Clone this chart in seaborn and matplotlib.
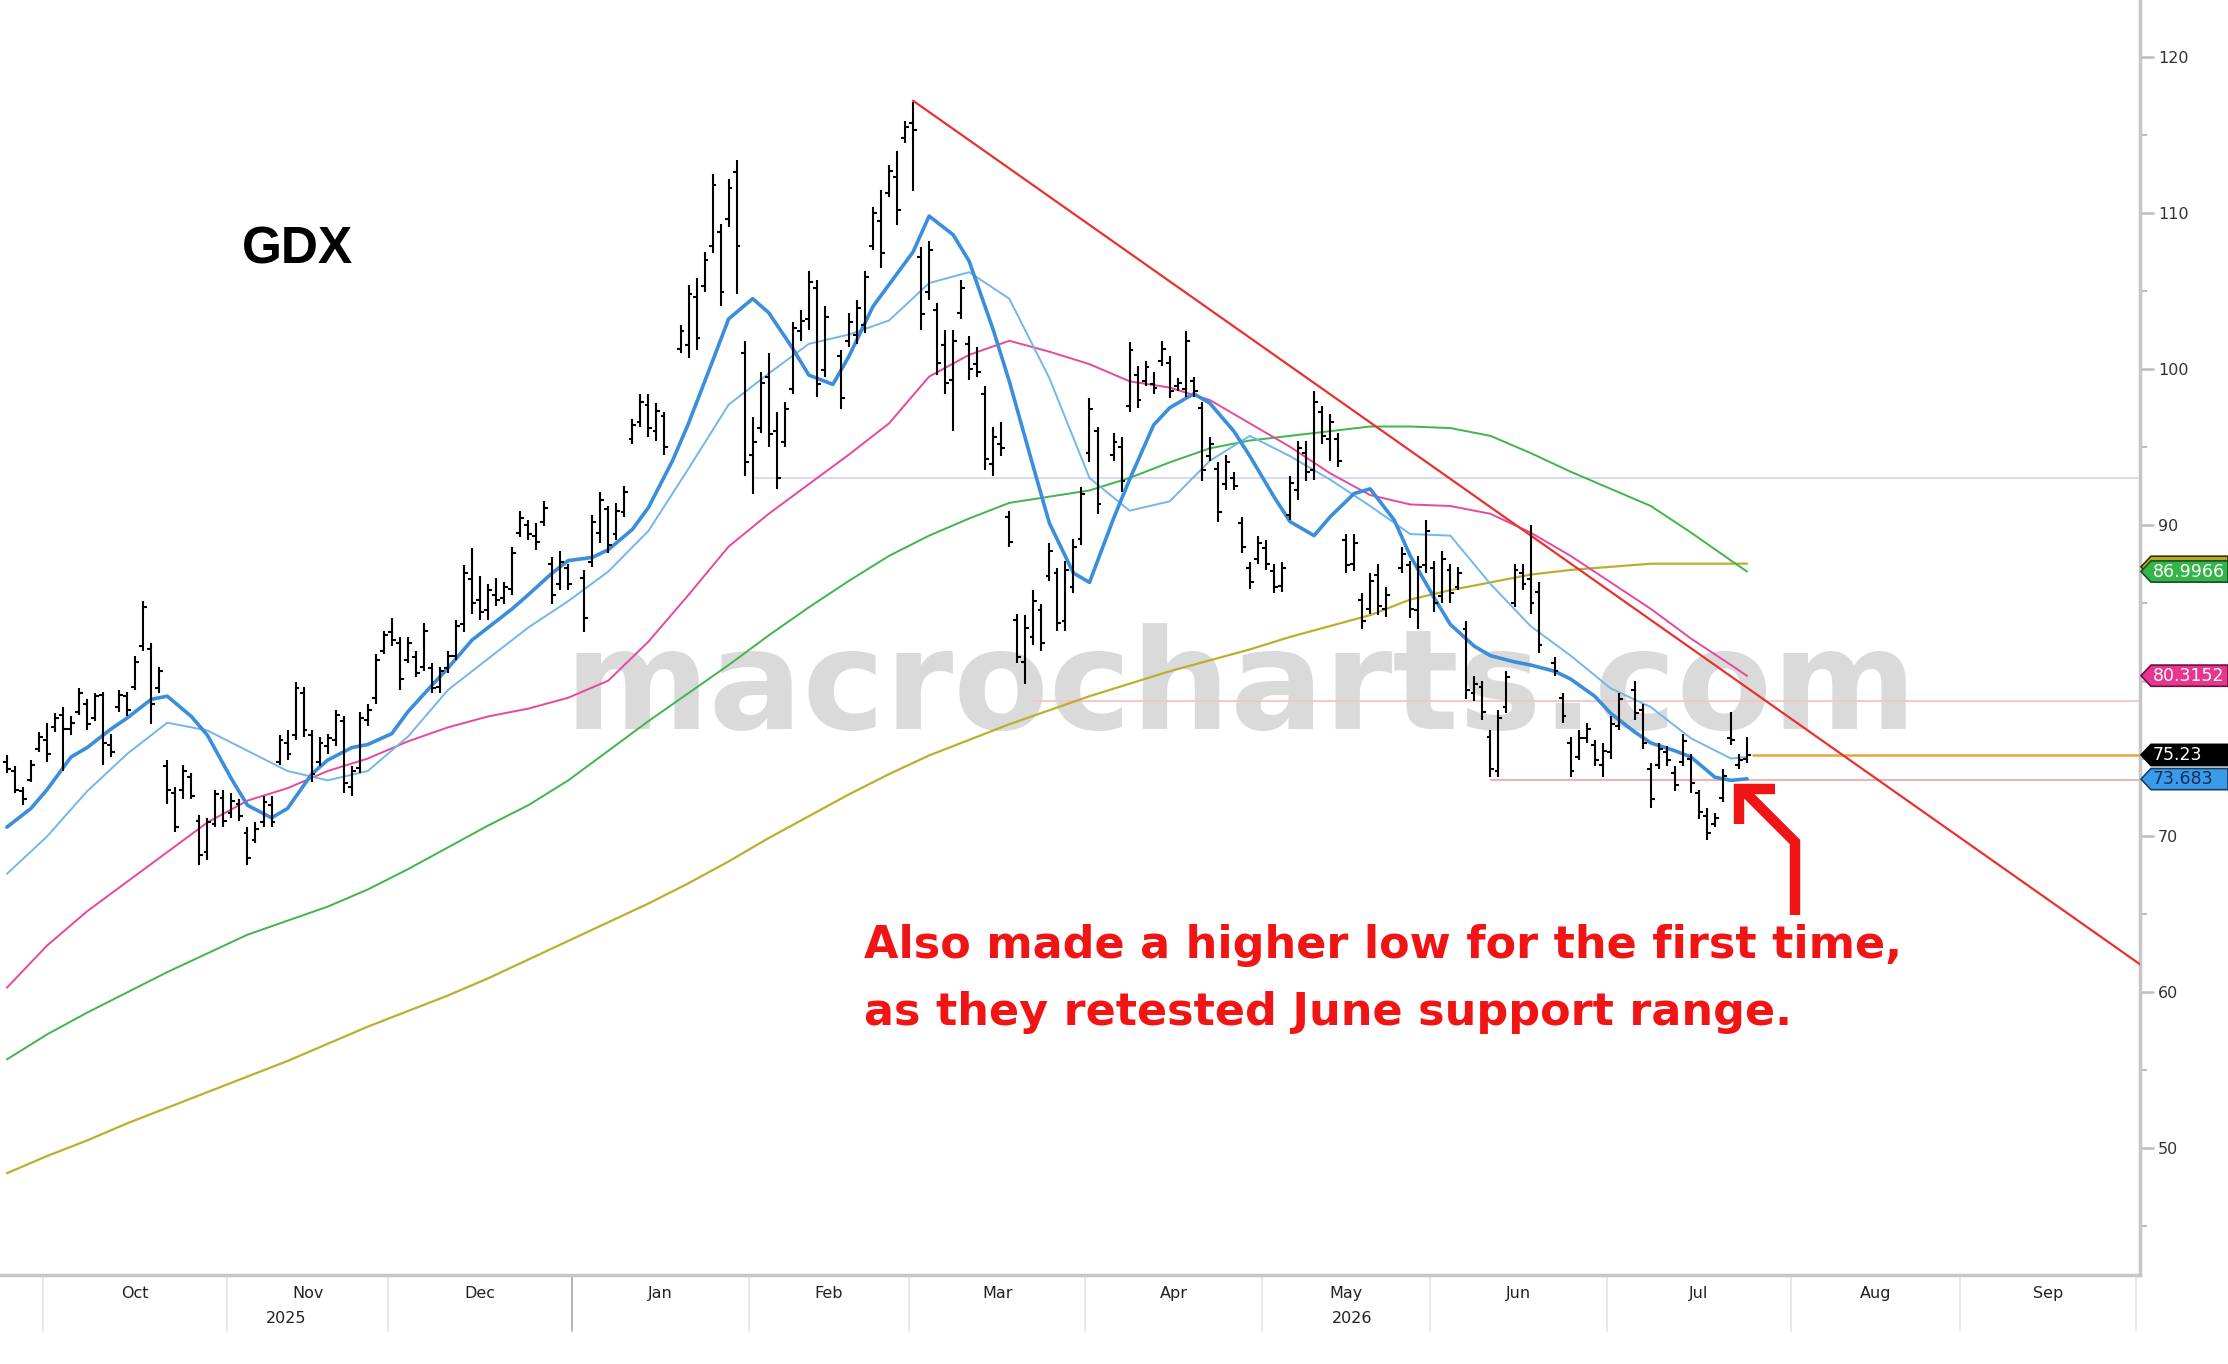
import numpy as np
import pandas as pd
import matplotlib.pyplot as plt
from matplotlib.lines import Line2D
from matplotlib.patches import Polygon
from matplotlib.transforms import blended_transform_factory
import seaborn as sns

# --- daily GDX bars, first bar 2025-09-24 ---
holidays = ["2026-01-01", "2026-01-19", "2026-02-16",
            "2026-04-03", "2026-05-25", "2026-06-19", "2026-07-03"]

highs = [
    75.2, 74.5, 73.2, 74.9, 76.7, 77.3, 77.9, 78.3, 77.7, 79.5,
    78.8, 79.2, 79.3, 76.6, 79.4, 79.3, 81.6, 85.1, 82.4, 80.9,
    74.9, 73.2, 74.6, 74.1, 71.4, 71.2, 73.0, 73.0, 72.8, 72.4,
    70.6, 70.9, 72.6, 72.6, 76.5, 76.8, 79.9, 79.6, 76.8, 76.4,
    76.6, 78.1, 77.7, 74.5, 78.0, 78.5, 81.7, 83.2, 84.0, 82.8,
    82.8, 81.9, 83.7, 81.1, 80.9, 81.9, 83.9, 87.4, 88.5, 86.7,
    86.2, 86.6, 86.3, 88.6, 90.9, 90.3, 90.1, 91.5, 87.9, 88.3,
    87.5, 87.1, 90.6, 92.1, 91.2, 91.4, 92.5, 96.8, 98.4, 98.4,
    97.8, 97.2, 102.8, 105.4, 105.8, 107.5, 112.5, 109.3, 112.2, 113.4,
    101.8, 96.9, 99.8, 101.0, 97.2, 97.9, 103.0, 103.8, 106.3, 105.7,
    104.0, 101.2, 103.6, 104.4, 106.3, 110.4, 111.5, 113.1, 114.0, 115.9,
    117.1, 107.8, 108.2, 104.2, 102.5, 102.5, 105.7, 102.1, 101.4, 98.9,
    96.3, 96.6, 90.9, 84.3, 84.2, 85.8, 84.9, 88.8, 87.2, 87.7,
    89.1, 92.4, 98.1, 96.3, 95.9, 95.6, 101.7, 100.2, 100.5, 99.8,
    101.8, 100.8, 99.4, 102.4, 99.5, 97.9, 95.6, 94.0, 94.5, 93.4,
    90.5, 87.6, 89.3, 89.0, 87.5, 87.6, 93.1, 95.4, 95.4, 98.6,
    97.6, 97.1, 95.9, 89.4, 89.4, 85.6, 86.9, 87.5, 86.0, 88.6,
    87.7, 88.0, 90.3, 87.7, 88.3, 87.5, 87.3, 83.8, 80.3, 80.0,
    76.8, 78.1, 80.6, 87.5, 87.5, 90.0, 86.3, 81.5, 79.2, 76.4,
    76.8, 77.3, 76.2, 76.0, 77.7, 79.2, 80.0, 78.5, 74.7, 76.0,
    75.8, 74.5, 76.6, 75.3, 73.0, 71.8, 71.5, 74.3, 78.0, 75.3,
    76.4]

lows = [
    74.1, 72.8, 72.0, 73.5, 75.4, 74.8, 76.7, 74.2, 76.5, 77.8,
    76.8, 77.4, 74.6, 75.1, 78.0, 77.7, 79.4, 81.9, 77.2, 79.2,
    72.1, 70.3, 72.4, 72.4, 68.2, 68.5, 70.6, 70.6, 71.2, 71.0,
    68.2, 69.6, 70.6, 70.6, 74.6, 74.9, 76.2, 76.4, 73.5, 74.5,
    75.3, 75.8, 72.8, 72.6, 74.1, 77.1, 78.5, 81.7, 82.2, 79.4,
    81.1, 80.2, 80.6, 79.2, 79.2, 80.5, 81.3, 83.1, 84.3, 83.9,
    83.9, 84.8, 84.9, 85.5, 89.2, 89.0, 88.4, 89.9, 84.9, 85.8,
    85.8, 83.1, 87.3, 88.8, 88.2, 89.0, 90.5, 95.2, 96.3, 95.6,
    95.4, 94.5, 101.0, 100.7, 101.2, 104.9, 107.4, 104.0, 109.1, 104.8,
    93.1, 92.0, 95.9, 95.0, 92.3, 95.0, 98.4, 101.8, 102.5, 98.2,
    99.5, 97.4, 101.4, 101.6, 102.3, 107.6, 106.5, 111.0, 109.2, 114.5,
    111.4, 102.5, 104.4, 99.6, 98.4, 96.0, 103.2, 99.3, 99.5, 93.5,
    93.1, 94.4, 88.6, 81.1, 79.8, 82.3, 81.9, 86.4, 83.2, 83.2,
    85.6, 88.7, 94.0, 90.7, 94.1, 92.1, 97.2, 97.5, 98.9, 98.4,
    100.2, 98.1, 98.6, 98.2, 98.2, 92.8, 94.1, 90.2, 92.2, 92.2,
    88.2, 85.9, 87.5, 87.1, 85.6, 85.7, 90.3, 91.6, 92.8, 92.9,
    95.2, 94.1, 93.7, 86.9, 87.0, 83.3, 84.3, 84.2, 84.1, 86.9,
    84.0, 83.3, 86.9, 84.4, 85.0, 85.0, 85.8, 78.8, 78.7, 77.5,
    73.8, 73.8, 77.9, 84.7, 85.8, 84.3, 81.8, 80.3, 77.3, 73.8,
    74.9, 76.0, 74.5, 73.8, 75.0, 76.8, 77.5, 75.6, 71.8, 74.3,
    74.5, 72.9, 74.5, 72.8, 71.1, 69.8, 70.6, 72.2, 75.9, 74.3,
    74.7]

opens = [
    74.8, 74.2, 72.9, 73.6, 75.6, 76.2, 77.0, 77.8, 76.9, 78.0,
    78.5, 77.6, 79.1, 75.9, 78.3, 79.0, 79.6, 82.2, 82.0, 79.5,
    74.5, 72.8, 73.0, 73.8, 71.0, 69.0, 70.8, 72.5, 71.5, 72.1,
    70.2, 69.8, 70.9, 72.0, 74.8, 76.0, 76.5, 79.2, 76.5, 74.8,
    75.8, 76.2, 77.4, 73.2, 74.4, 77.5, 78.9, 81.9, 83.1, 82.4,
    81.3, 81.5, 80.9, 80.8, 79.6, 80.8, 81.6, 83.6, 86.5, 85.2,
    84.5, 85.5, 85.3, 85.9, 89.5, 90.0, 89.3, 90.2, 87.5, 86.2,
    87.2, 86.6, 87.6, 89.5, 91.0, 89.4, 90.8, 95.5, 96.6, 97.7,
    96.0, 97.0, 101.3, 101.5, 104.6, 105.3, 107.9, 108.8, 109.6, 112.6,
    101.0, 94.5, 96.2, 99.5, 96.0, 95.3, 98.7, 102.4, 103.2, 105.2,
    99.9, 100.8, 101.8, 102.2, 102.8, 107.9, 109.5, 111.3, 112.3, 114.8,
    115.8, 107.2, 104.9, 103.8, 101.5, 99.3, 103.6, 101.6, 100.3, 98.4,
    93.9, 95.2, 90.5, 83.9, 81.2, 82.8, 84.5, 86.7, 86.9, 83.8,
    86.0, 89.1, 94.6, 96.0, 94.5, 95.0, 97.6, 99.6, 99.2, 99.0,
    100.5, 100.4, 98.9, 98.7, 99.2, 97.5, 94.4, 93.6, 92.6, 93.0,
    90.1, 87.2, 87.8, 88.5, 87.0, 86.1, 90.6, 92.2, 94.6, 93.5,
    97.2, 95.5, 95.5, 89.0, 87.5, 85.2, 84.6, 86.8, 84.6, 87.2,
    87.4, 84.5, 87.4, 87.2, 85.4, 87.1, 86.0, 83.3, 79.2, 79.6,
    76.4, 74.2, 78.3, 85.0, 86.9, 86.5, 85.7, 81.1, 78.9, 76.0,
    75.1, 76.3, 75.9, 74.6, 75.4, 77.1, 79.4, 78.1, 74.3, 74.6,
    75.4, 74.1, 74.8, 75.0, 72.8, 71.3, 70.8, 72.5, 76.3, 74.6,
    75.0]

closes = [
    74.3, 73.0, 72.4, 74.6, 76.4, 75.3, 77.6, 76.9, 77.3, 79.2,
    77.2, 79.0, 76.0, 75.4, 79.1, 78.1, 81.2, 84.7, 78.5, 80.6,
    73.0, 70.6, 74.2, 72.6, 68.8, 70.9, 72.7, 71.0, 72.3, 71.3,
    68.6, 70.5, 72.2, 70.9, 76.2, 75.3, 79.5, 76.8, 74.0, 76.0,
    76.3, 77.8, 73.4, 74.2, 77.6, 78.1, 81.3, 82.9, 82.6, 80.1,
    82.4, 80.5, 83.2, 79.5, 80.6, 81.6, 83.5, 86.9, 85.0, 84.4,
    85.8, 85.2, 86.0, 88.2, 90.4, 89.4, 88.9, 91.1, 85.5, 87.6,
    86.2, 84.0, 90.2, 91.6, 88.7, 90.9, 92.1, 96.4, 97.9, 96.2,
    97.3, 95.0, 102.4, 104.8, 102.0, 107.0, 111.8, 104.9, 111.6, 107.9,
    94.0, 95.3, 99.1, 95.8, 93.0, 97.4, 102.6, 103.1, 105.6, 99.0,
    103.3, 98.1, 103.0, 103.9, 105.9, 110.0, 107.4, 112.7, 110.2, 115.5,
    115.3, 103.5, 107.6, 100.4, 99.1, 101.8, 105.2, 100.0, 99.8, 94.2,
    95.6, 94.9, 88.9, 81.5, 83.4, 85.1, 82.4, 88.3, 83.7, 87.1,
    88.6, 92.0, 97.4, 91.3, 95.3, 92.8, 101.2, 98.0, 100.1, 98.8,
    101.3, 98.6, 99.1, 101.8, 98.6, 93.5, 95.2, 90.8, 94.0, 92.5,
    88.6, 86.3, 88.8, 87.5, 86.0, 87.2, 92.7, 94.9, 93.4, 97.9,
    95.7, 96.6, 94.1, 87.4, 88.8, 83.8, 86.4, 84.8, 85.5, 88.1,
    84.6, 87.3, 89.6, 85.0, 87.8, 85.6, 86.9, 79.4, 79.8, 78.0,
    74.3, 77.6, 80.2, 87.1, 86.2, 85.0, 82.3, 80.6, 77.7, 74.2,
    76.3, 76.9, 74.9, 75.5, 77.2, 78.8, 77.9, 76.0, 72.4, 75.6,
    74.9, 73.3, 76.1, 73.4, 71.6, 70.2, 71.2, 73.9, 76.2, 74.9,
    75.23]

# --- fast MA (thick blue), sampled Mondays and Wednesdays, last point = last bar ---
ma_fast = [70.6, 71.8, 73.0, 75.1, 75.7, 76.9, 77.6, 78.8, 79.0, 77.7,
           76.5, 73.7, 72.0, 71.2, 71.8, 74.0, 74.9, 75.7, 75.9, 76.6,
           78.0, 79.7, 80.8, 82.6, 83.4, 84.6, 85.5, 86.9, 87.7, 87.9,
           88.4, 89.7, 91.1, 94.1, 96.5, 100.5, 103.2, 104.5, 103.6, 101.3,
           99.6, 99.0, 100.8, 104.0, 105.4, 107.5, 109.8, 108.6, 106.9, 102.5,
           99.2, 93.7, 90.1, 86.9, 86.3, 90.4, 92.9, 96.4, 97.5, 98.4,
           97.8, 96.0, 94.4, 91.8, 90.2, 89.3, 90.5, 92.0, 92.3, 90.3,
           88.0, 85.3, 83.6, 82.2, 81.6, 81.2, 81.0, 80.6, 80.1, 79.0,
           77.9, 76.7, 76.0, 75.5, 75.1, 73.8, 73.6, 73.7]

# --- other moving averages, sampled every Wednesday, last point = last bar ---
ma_slow = [67.6, 70.0, 72.9, 75.3, 77.3, 76.8, 75.5, 74.2, 73.6, 74.2,
           76.4, 79.4, 81.4, 83.4, 85.1, 87.0, 89.6, 93.6, 97.7, 99.7,
           101.6, 102.2, 103.1, 105.5, 106.2, 104.5, 99.4, 93.0, 90.9, 91.5,
           94.1, 95.7, 94.4, 92.9, 91.2, 89.4, 89.3, 86.2, 83.5, 81.6,
           79.5, 78.3, 76.3, 75.0, 75.1]
ma_50 = [60.3, 63.0, 65.2, 67.1, 69.0, 70.9, 72.3, 73.1, 74.2, 75.0,
         76.1, 77.0, 77.7, 78.2, 78.9, 80.0, 82.5, 85.5, 88.6, 90.7,
         92.6, 94.5, 96.5, 99.5, 100.9, 101.8, 101.1, 100.3, 99.2, 98.8,
         98.0, 96.5, 95.0, 93.3, 91.9, 91.3, 91.2, 90.7, 89.5, 88.0,
         86.3, 84.6, 82.7, 81.0, 80.3]
ma_100 = [55.7, 57.3, 58.7, 60.0, 61.3, 62.5, 63.7, 64.6, 65.5, 66.6,
          67.9, 69.3, 70.7, 72.0, 73.6, 75.5, 77.4, 79.2, 81.0, 82.9,
          84.7, 86.4, 88.0, 89.3, 90.4, 91.4, 91.8, 92.2, 93.0, 94.0,
          94.9, 95.4, 95.7, 96.0, 96.3, 96.3, 96.2, 95.7, 94.6, 93.4,
          92.3, 91.2, 89.5, 87.7, 87.0]
ma_200 = [48.4, 49.5, 50.5, 51.6, 52.6, 53.6, 54.6, 55.6, 56.7, 57.8,
          58.8, 59.8, 60.9, 62.1, 63.3, 64.5, 65.7, 67.0, 68.4, 69.9,
          71.3, 72.7, 74.0, 75.2, 76.2, 77.2, 78.1, 79.0, 79.8, 80.6,
          81.3, 82.0, 82.8, 83.5, 84.2, 85.2, 85.8, 86.3, 86.8, 87.1,
          87.3, 87.5, 87.5, 87.5, 87.5]

# trendline and horizontal levels
trend_dates = ["2026-03-02", "2026-10-01"]
trend_vals = [117.2, 61.8]
level_vals = [93.0, 78.7, 73.6]
level_starts = ["2026-02-02", "2026-03-23", "2026-06-10"]
level_colors = ["#d6d6ef", "#f4c4c4", "#f2a8a8"]

# right-hand value tags
tag_vals = [87.3, 86.9966, 80.3152, 75.23, 73.683]
tag_text = ["", "86.9966", "80.3152", "75.23", "73.683"]
tag_fill = ["#b9a826", "#35b44a", "#e8368f", "#000000", "#3b9be8"]
tag_edge = ["#3a3300", "#145020", "#6a1040", "#000000", "#10406a"]
tag_font = ["white", "white", "white", "white", "#0e2e5a"]

y_ticks = [50, 60, 70, 80, 90, 100, 110, 120]
y_tick_labels = ["50", "60", "70", "", "90", "100", "110", "120"]
month_names = ["Oct", "Nov", "Dec", "Jan", "Feb", "Mar", "Apr", "May",
               "Jun", "Jul", "Aug", "Sep"]

START = np.datetime64("2025-09-24")


def wd(dates):
    # weekday position on the axis (holidays leave gaps)
    d = np.asarray(pd.to_datetime(dates).values, dtype="datetime64[D]")
    return np.busday_count(START, d)


sns.set_theme(style="white")
plt.rcParams["font.family"] = ["DejaVu Sans"]

W, H = 2228, 1364
fig = plt.figure(figsize=(W / 100, H / 100), dpi=100)
ax = fig.add_axes([0, 1 - 1275 / H, 2140 / W, 1275 / H])

XMIN, XMAX = -0.86, 266.0
ax.set_xlim(XMIN, XMAX)
ax.set_ylim(41.87, 123.66)

# watermark
ax.text(0.58, 0.428, "macrocharts.com", transform=ax.transAxes, fontsize=100,
        fontweight="bold", color="#dadada", ha="center", va="baseline", zorder=0.5)

# horizontal levels
for v, s, c in zip(level_vals, level_starts, level_colors):
    ax.hlines(v, wd([s])[0], XMAX, color=c, lw=1.3, zorder=1)

# bar dates
bar_dates = pd.bdate_range("2025-09-24", periods=len(closes), freq="C", holidays=holidays)
xb = wd(bar_dates).astype(float)

# moving averages
week_dates = list(pd.date_range("2025-09-24", periods=len(ma_slow) - 1, freq="7D")) + [bar_dates[-1]]
fast_dates = sorted(set(pd.date_range("2025-09-24", "2026-07-22", freq="W-WED"))
                    | set(pd.date_range("2025-09-24", "2026-07-22", freq="W-MON"))) + [bar_dates[-1]]
ma_df = pd.DataFrame({"x": wd(week_dates), "slow": ma_slow,
                      "m50": ma_50, "m100": ma_100, "m200": ma_200})
fast_df = pd.DataFrame({"x": wd(fast_dates), "fast": ma_fast})
sns.lineplot(data=ma_df, x="x", y="m200", ax=ax, color="#bfae2e", lw=1.6, zorder=2)
sns.lineplot(data=ma_df, x="x", y="m100", ax=ax, color="#3fb54a", lw=1.4, zorder=2)
sns.lineplot(data=ma_df, x="x", y="m50", ax=ax, color="#e6489b", lw=1.4, zorder=2)
sns.lineplot(data=ma_df, x="x", y="slow", ax=ax, color="#74b6ec", lw=1.4, zorder=2)
sns.lineplot(data=fast_df, x="x", y="fast", ax=ax, color="#3a8edb", lw=2.6, zorder=2.2)

# OHLC bars
ax.vlines(xb, lows, highs, color="black", lw=1.5, zorder=4)
ax.hlines(opens, xb - 0.48, xb, color="black", lw=1.5, zorder=4)
ax.hlines(closes, xb, xb + 0.48, color="black", lw=1.5, zorder=4)

# last price line and trendline
ax.hlines(closes[-1], xb[-1] + 0.6, XMAX, color="#e9a640", lw=1.8, zorder=3)
ax.plot(wd(trend_dates), trend_vals, color="#e8322e", lw=1.6, zorder=3)

# axes styling
for side in ["left", "top"]:
    ax.spines[side].set_visible(False)
for side in ["right", "bottom"]:
    ax.spines[side].set_color("#c6c6c6")
    ax.spines[side].set_linewidth(2.5)
ax.set_xlabel("")
ax.set_ylabel("")
ax.set_xticks([])
ax.yaxis.tick_right()
ax.set_yticks(y_ticks)
ax.set_yticklabels(y_tick_labels)
ax.set_yticks(range(45, 121, 10), minor=True)
ax.tick_params(axis="y", which="major", right=True, left=False, length=10, width=1.8,
               color="#bdbdbd", labelsize=11.5, labelcolor="#333333", pad=3)
ax.tick_params(axis="y", which="minor", right=True, left=False, length=5, width=1.4,
               color="#bdbdbd")

# month axis below the plot
bt = blended_transform_factory(ax.transData, ax.transAxes)
bounds = wd(pd.date_range("2025-10-01", "2026-10-01", freq="MS")) - 0.5
year_edge = wd(["2026-01-01"])[0] - 0.5
for b in bounds:
    col = "#a8a8a8" if b == year_edge else "#e4e4e4"
    ax.plot([b, b], [0, -0.044], transform=bt, color=col, lw=1.2, clip_on=False)
centers = (bounds[:-1] + bounds[1:]) / 2
for c, name in zip(centers, month_names):
    ax.text(c, -0.0145, name, transform=bt, ha="center", va="center",
            fontsize=11.5, color="#222222")
ax.text(286 / 2140, -0.0345, "2025", transform=ax.transAxes, ha="center",
        va="center", fontsize=11.5, color="#222222")
ax.text(1352 / 2140, -0.0345, "2026", transform=ax.transAxes, ha="center",
        va="center", fontsize=11.5, color="#222222")

# value tags on the right
tt = blended_transform_factory(fig.transFigure, ax.transData)
half = 0.68
x0, tip = 2141 / W, 10 / W
for v, t, f, e, fc in zip(tag_vals, tag_text, tag_fill, tag_edge, tag_font):
    poly = Polygon([(x0, v), (x0 + tip, v + half), (1.0, v + half),
                    (1.0, v - half), (x0 + tip, v - half)], closed=True,
                   transform=tt, facecolor=f, edgecolor=e, lw=1.2, clip_on=False)
    fig.add_artist(poly)
    if t:
        fig.text(x0 + 12 / W, v, t, transform=tt, ha="left", va="center",
                 fontsize=12.5, color=fc)

# titles and annotation
ax.text(0.113, 0.793, "GDX", transform=ax.transAxes, fontsize=37,
        fontweight="bold", family=["Liberation Sans", "DejaVu Sans"],
        color="black", va="baseline")
ax.text(0.4037, 0.2486, "Also made a higher low for the first time,",
        transform=ax.transAxes, fontsize=32, fontweight="bold",
        color="#f01414", va="baseline")
ax.text(0.4037, 0.1961, "as they retested June support range.",
        transform=ax.transAxes, fontsize=32, fontweight="bold",
        color="#f01414", va="baseline")


def fp(pts):
    return [p[0] / W for p in pts], [1 - p[1] / H for p in pts]


shaft_x, shaft_y = fp([(1795, 915), (1795, 842), (1745, 792)])
head_x, head_y = fp([(1775, 789), (1739, 789), (1739, 824)])
for xs, ys in [(shaft_x, shaft_y), (head_x, head_y)]:
    fig.add_artist(Line2D(xs, ys, transform=fig.transFigure, color="#f01414",
                          lw=7.5, solid_joinstyle="miter", solid_capstyle="butt"))

fig.savefig("out.png", dpi=100)
